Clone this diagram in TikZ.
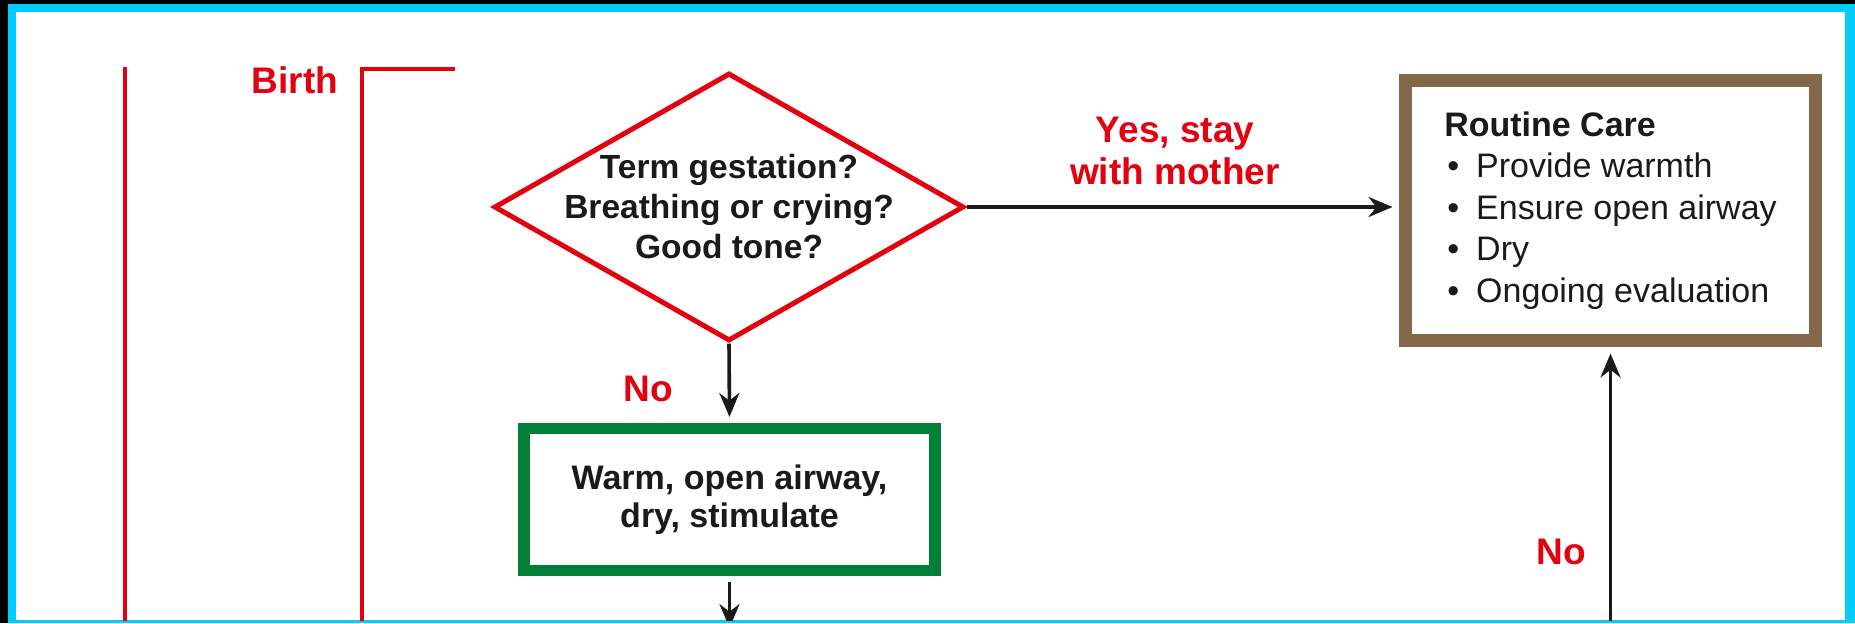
\documentclass[tikz,border=0pt]{standalone}
\usepackage{fontspec}
\setmainfont{Liberation Sans}
\usepackage{xcolor}
\definecolor{alarm}{HTML}{E3000F}
\definecolor{routine}{HTML}{836849}
\definecolor{action}{HTML}{008037}
\definecolor{rim}{HTML}{00CCFF}
\definecolor{ink}{HTML}{1A1A1A}
\usepackage{tikz}
\usetikzlibrary{shapes.geometric, arrows.meta, positioning}
\newcommand{\carept}[1]{\makebox[16pt][l]{\hspace{1.5pt}\textbullet}#1}

\begin{document}
\begin{tikzpicture}[x=0.5pt, y=-0.5pt,
  decision/.style={diamond, draw=alarm, line width=2.5pt, inner sep=0pt,
    minimum width=235pt, minimum height=134pt},
  qtext/.style={font=\bfseries\fontsize{16.75}{20}\selectfont, align=center, text=ink},
  carebox/.style={rectangle, draw=routine, line width=6.5pt,
    minimum width=205pt, minimum height=130pt,
    font=\fontsize{17}{20.75}\selectfont, align=left, text=ink},
  actbox/.style={rectangle, draw=action, line width=5.75pt,
    minimum width=205.5pt, minimum height=71pt,
    font=\bfseries\fontsize{17}{19}\selectfont, align=center, text=ink},
  flow/.style={draw=ink, line width=1.8pt, -{Stealth[length=12pt, width=10pt]}},
  tag/.style={text=alarm, font=\bfseries\fontsize{18.5}{21}\selectfont, align=center},
  rail/.style={draw=alarm, line width=2pt}]

% Frame
\fill[black] (0,0) rectangle (1855,623);
\fill[rim] (8,4) rectangle (1855,623);
\fill[white] (16,12) rectangle (1845,620);

\begin{scope}
\clip (16,12) rectangle (1845,620);

% Timeline rails
\draw[rail] (125,67) -- (125,640);
\draw[rail] (455,69) -- (362,69) -- (362,640);
\node[tag] (birth) at (295,80) {Birth};

% Boxes
\node[decision] (q) at (729,207) {};
\node[qtext] (qt) at (q.center) {Term gestation?\\Breathing or crying?\\Good tone?};

\node[carebox] (care) at (1610.5,210.5) {\textbf{Routine Care}\\
  \carept{Provide warmth}\\
  \carept{Ensure open airway}\\
  \carept{Dry}\\
  \carept{Ongoing evaluation}};

\node[actbox] (warm) at (729.5,499.5) {Warm, open airway,\\dry, stimulate};

% Free ends below the crop
\coordinate (below) at (729.5,628);
\coordinate (rise) at (1610.5,640);

% Connectors
\draw[flow, shorten >=3.25pt] (q.east) -- (q.east -| care.west);
\draw[flow, shorten >=2.9pt] (q.south) -- (warm.north);
\draw[flow, shorten <=2.9pt] (warm.south) -- (below);
\draw[flow, shorten >=3.25pt] (rise) -- (care.south);

% Labels
\node[tag] (yes) at (1175,151) {Yes, stay\\with mother};
\node[tag] (no1) at (648,389) {No};
\node[tag] (no2) at (1561,552) {No};
\end{scope}
\end{tikzpicture}
\end{document}
